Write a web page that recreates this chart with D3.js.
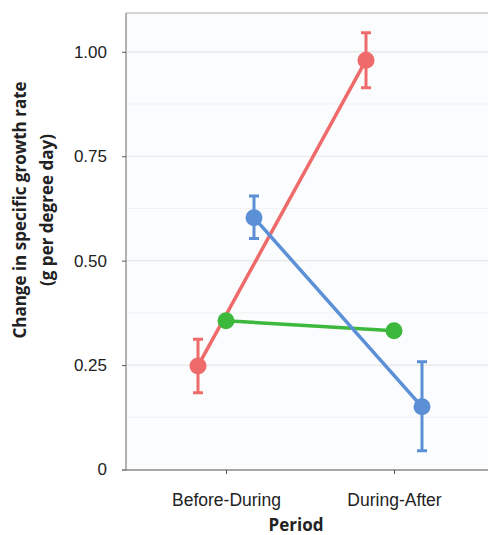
<!DOCTYPE html>
<html>
<head>
<meta charset="utf-8">
<script src="https://cdn.jsdelivr.net/npm/d3@7"></script>
<style>
  body { margin: 0; background: #fff; }
  svg { display: block; font-family: Lato, "Open Sans", sans-serif; }
  .title { font-family: "Open Sans", Lato, sans-serif; }
</style>
</head>
<body>
<svg id="chart" width="488" height="535"></svg>
<script>
(function () {
    'use strict';

    const WIDTH = 488;
    const HEIGHT = 535;

    // data
    const periods = ["Before-During", "During-After"];
    const groups = ["red", "green", "blue"];
    const groupColors = ["#ef6b6b", "#3cb83c", "#5b8fd6"];
    const groupOffsets = [-28, 0, 28];
    const redMeans = [0.248, 0.98];
    const redLow = [0.184, 0.914];
    const redHigh = [0.312, 1.046];
    const greenMeans = [0.356, 0.332];
    const greenLow = [0.346, 0.322];
    const greenHigh = [0.366, 0.342];
    const blueMeans = [0.603, 0.150];
    const blueLow = [0.553, 0.045];
    const blueHigh = [0.655, 0.258];
    const yTicks = [0, 0.25, 0.5, 0.75, 1.0];
    const yTickLabels = ["0", "0.25", "0.50", "0.75", "1.00"];
    const yMinor = [0.125, 0.375, 0.625, 0.875];

    const margin = {top: 13, right: 0, bottom: 65, left: 126};

    let series = [
        {means: redMeans, low: redLow, high: redHigh},
        {means: greenMeans, low: greenLow, high: greenHigh},
        {means: blueMeans, low: blueLow, high: blueHigh}
    ];

    let svg = d3.select('#chart');

    let x = d3.scalePoint()
        .domain(periods)
        .range([226, 394]);

    let y = d3.scaleLinear()
        .domain([0, 1.093])
        .range([469.5, margin.top]);

    // panel
    svg.append('rect')
        .attr('x', margin.left).attr('y', margin.top)
        .attr('width', WIDTH - margin.left).attr('height', 469.5 - margin.top)
        .attr('fill', '#fbfcfd');

    svg.append('g')
        .selectAll('line')
        .data(yMinor)
        .join('line')
        .attr('x1', margin.left).attr('x2', WIDTH)
        .attr('y1', d => y(d)).attr('y2', d => y(d))
        .attr('stroke', '#f1f1f1').attr('stroke-width', 1);

    svg.append('g')
        .selectAll('line')
        .data(yTicks.slice(1))
        .join('line')
        .attr('x1', margin.left).attr('x2', WIDTH)
        .attr('y1', d => y(d)).attr('y2', d => y(d))
        .attr('stroke', '#e6e6e6').attr('stroke-width', 1.2);

    svg.append('line')
        .attr('x1', margin.left).attr('x2', WIDTH)
        .attr('y1', margin.top).attr('y2', margin.top)
        .attr('stroke', '#c8c8c8').attr('stroke-width', 1.5);

    // axes
    let yAxis = svg.append('g')
        .attr('transform', `translate(${margin.left},0)`)
        .call(d3.axisLeft(y).tickValues(yTicks)
            .tickFormat((d, i) => yTickLabels[i]).tickSize(4).tickPadding(15));
    yAxis.select('.domain').attr('stroke', '#999').attr('stroke-width', 1.5)
        .attr('d', `M0,${margin.top}V${y(0) + 1}`);
    yAxis.selectAll('.tick line').attr('stroke', '#555');
    yAxis.selectAll('text').attr('font-size', 17).attr('fill', '#222');

    let xAxis = svg.append('g')
        .attr('transform', `translate(0,${y(0) + 0.5})`)
        .call(d3.axisBottom(x).tickSize(4).tickPadding(20));
    xAxis.select('.domain').attr('stroke', '#888').attr('stroke-width', 1.5)
        .attr('d', `M${margin.left - 4},0H${WIDTH}`);
    xAxis.selectAll('.tick line').attr('stroke', '#555');
    xAxis.selectAll('text').attr('font-size', 17.5).attr('fill', '#222');

    // titles
    svg.append('text')
        .attr('class', 'title')
        .attr('x', 296).attr('y', 531)
        .attr('text-anchor', 'middle')
        .attr('font-size', 17).attr('font-weight', 'bold').attr('fill', '#222')
        .text('Period');

    let yTitle = svg.append('text')
        .attr('class', 'title')
        .attr('transform', 'translate(0,210) rotate(-90)')
        .attr('text-anchor', 'middle')
        .attr('font-size', 17).attr('font-weight', 'bold').attr('fill', '#222');
    yTitle.append('tspan').attr('x', 0).attr('y', 26).text('Change in specific growth rate');
    yTitle.append('tspan').attr('x', 0).attr('y', 53).text('(g per degree day)');

    // series
    let line = d3.line()
        .x(d => d.x)
        .y(d => y(d.v));

    series.forEach((s, gi) => {
        let pts = periods.map((p, i) => ({
            x: x(p) + groupOffsets[gi],
            v: s.means[i], lo: s.low[i], hi: s.high[i]
        }));
        let color = groupColors[gi];
        let g = svg.append('g').attr('class', groups[gi]);

        g.append('path')
            .datum(pts)
            .attr('d', line)
            .attr('fill', 'none')
            .attr('stroke', color).attr('stroke-width', 3.5);

        g.selectAll('.err')
            .data(pts)
            .join('path')
            .attr('d', d => `M${d.x},${y(d.lo)}V${y(d.hi)}` +
                `M${d.x - 5},${y(d.lo)}H${d.x + 5}M${d.x - 5},${y(d.hi)}H${d.x + 5}`)
            .attr('fill', 'none')
            .attr('stroke', color).attr('stroke-width', 3);

        g.selectAll('circle')
            .data(pts)
            .join('circle')
            .attr('cx', d => d.x).attr('cy', d => y(d.v))
            .attr('r', 8.5)
            .attr('fill', color);
    });
})();
</script>
</body>
</html>
